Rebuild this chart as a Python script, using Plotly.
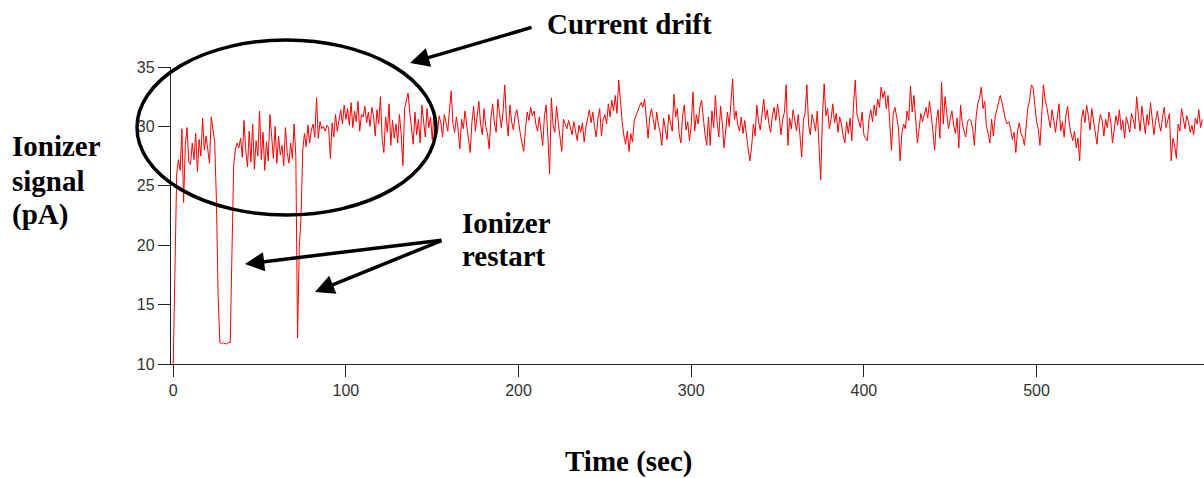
import plotly.graph_objects as go

# ---------------- data (1 sample per second) ----------------
signal_pA = [
    10.0, 18.5, 26.0, 27.2, 26.3, 29.8, 23.6, 28.5, 29.9, 27.0,
    26.8, 28.6, 27.2, 29.4, 26.2, 28.9, 27.5, 30.7, 28.0, 29.2,
    27.9, 26.9, 30.8, 29.6, 28.7,
    23.8, 15.7, 11.8, 11.7, 11.8, 11.7, 11.7, 11.8, 11.8, 18.5, 26.7, 28.1,
    28.6, 28.2, 29.0, 27.4, 30.5, 28.0, 26.6, 29.6, 27.0, 30.2, 26.4, 28.8, 27.5, 31.3,
    27.2, 29.5, 26.3, 28.7, 27.1, 31.0, 28.8, 27.3, 30.0, 26.9,
    29.2, 27.6, 28.4, 26.7, 29.9, 27.8, 26.9, 28.6, 27.3, 30.2, 27.5,
    12.2, 19.8, 22.3, 28.0,
    29.4, 28.3, 30.1, 28.6, 29.7, 30.2, 29.1, 32.4, 29.0, 30.4,
    29.8, 30.0, 29.6, 30.1, 29.9, 27.3, 30.3, 29.1, 31.0, 29.6,
    30.5, 31.4, 30.2, 31.8,
    30.6, 31.5, 30.1, 32.0, 29.9, 31.3, 30.4, 32.1, 29.6, 31.0,
    30.8, 31.7, 30.3, 31.2, 30.0, 31.6, 30.9, 29.2, 31.4, 30.2,
    32.5, 28.9, 27.8, 30.8, 29.5, 31.9, 28.4, 30.5, 29.0, 30.2,
    28.6, 31.0, 29.4, 26.7, 31.5, 32.1, 32.8, 31.2, 29.7, 28.5,
    31.2, 29.3, 30.6, 28.6, 31.8, 30.4, 29.1, 31.5, 29.9, 30.8,
    28.9, 31.2, 30.0, 29.4, 30.9, 30.3, 29.1, 31.0, 30.4, 29.6,
    31.4, 33.0, 30.2, 29.5, 30.8, 29.7, 28.1, 30.6, 29.8, 31.3,
    30.1, 29.0, 27.8, 30.4, 31.7, 29.6, 30.9, 32.1, 30.2, 29.3,
    31.5, 30.0, 29.4, 28.1, 30.7, 31.9, 30.3, 29.5, 32.3, 30.8,
    29.9, 31.2, 33.5, 30.6, 29.2, 31.8, 30.4, 29.7, 30.9, 31.4,
    30.2, 29.4, 28.6, 27.9, 29.8, 31.2, 30.5, 31.6, 30.9, 31.3,
    30.2, 29.6, 30.8, 29.3, 28.4, 30.9, 31.8, 29.1, 26.0, 32.4,
    30.1, 29.5, 31.7, 30.3, 28.9, 27.9, 30.6, 30.2, 29.8, 30.5,
    30.0, 29.3, 30.4, 29.7, 28.8, 30.1, 29.5, 30.3, 28.7, 29.9,
    30.8, 31.4, 30.3, 31.2, 30.0, 29.1, 30.7, 31.5, 29.2, 30.6,
    31.0, 30.2, 31.9, 30.8, 32.2, 31.3, 32.6, 31.1, 33.9, 32.0,
    30.4, 29.2, 28.5, 29.6, 27.9, 29.4, 28.7, 30.5, 30.9, 31.4,
    31.7, 32.0, 31.6, 32.3, 30.2, 29.0, 30.8, 31.5, 30.6, 29.7,
    31.2, 30.1, 29.5, 28.4, 30.7, 29.9, 28.9, 31.0, 30.3, 29.6,
    32.7, 30.8, 31.5, 29.4, 28.6, 30.9, 31.8, 29.7, 30.4, 28.8,
    30.1, 32.9, 29.6, 31.0, 30.2, 31.6, 32.2, 30.7, 29.3, 28.4,
    30.8, 28.4, 31.3, 29.9, 32.6, 30.4, 29.1, 31.7, 30.3, 28.2,
    29.5, 31.2, 30.0, 32.0, 34.0, 30.6, 31.3, 30.1, 29.6, 30.8,
    29.4, 30.5, 29.0, 28.1, 27.1, 28.3, 30.2, 29.2, 31.8, 30.4,
    29.7, 31.0, 32.3, 30.6, 31.4, 30.2, 29.5, 30.9, 31.6, 30.5,
    31.9, 30.8, 29.3, 30.6, 31.2, 33.5, 28.4, 30.7, 29.8, 31.4,
    30.3, 29.6, 31.0, 29.1, 27.4, 30.5, 31.2, 33.5, 30.1, 29.3,
    31.0, 30.4, 29.6, 31.3, 28.7, 25.5, 30.8, 33.6, 30.9, 31.5,
    29.8, 30.6, 31.9, 30.3, 31.1, 29.5, 30.8, 30.2, 29.2, 28.6,
    30.4, 29.4, 30.7, 28.8, 31.8, 33.9, 31.0, 30.5, 29.9, 31.2,
    29.3, 29.0, 28.8, 30.6, 31.4, 30.4, 31.8, 30.9, 32.3, 31.6,
    33.3, 32.4, 33.0, 31.5, 32.6, 30.3, 28.0, 31.1, 31.6, 30.8,
    29.9, 27.1, 29.4, 30.2, 29.8, 31.3, 30.5, 33.4, 31.2, 32.6,
    30.1, 28.6, 29.8, 31.1, 30.4, 30.9, 31.6, 30.7, 32.1, 31.0,
    29.2, 28.0, 30.5, 31.4, 29.0, 33.7, 30.2, 32.5, 31.1, 29.8,
    30.6, 31.3, 30.1, 29.4, 30.7, 28.2, 31.8, 30.3, 29.6, 29.1,
    30.4, 30.6, 30.5, 29.8, 28.4, 30.8, 31.9, 32.4, 33.3, 31.5,
    32.1, 30.0, 29.4, 28.6, 30.6, 29.2, 30.8, 31.4, 32.1, 32.6,
    32.0, 31.2, 30.6, 30.2, 30.4, 29.8, 28.9, 29.5, 27.8, 29.6,
    30.3, 29.4, 29.1, 28.4, 30.2, 31.6, 32.2, 33.5, 33.3, 31.5,
    30.4, 29.8, 28.4, 30.9, 33.5, 32.2, 31.6, 30.7, 29.9, 31.4,
    30.6, 29.5, 30.8, 31.9, 29.6, 30.4, 29.1, 30.9, 31.7, 30.2,
    29.4, 28.8, 29.6, 28.2, 29.0, 27.1, 30.6, 31.4, 30.3, 31.8,
    30.9, 29.7, 31.5, 30.4, 29.6, 28.5, 30.1, 31.0, 30.5, 29.2,
    30.6, 29.9, 31.2, 30.4, 28.6, 29.8, 30.9, 30.1, 31.4, 29.7,
    30.5, 29.0, 30.8, 30.2, 29.5, 31.1, 30.6, 29.8, 32.5, 30.9,
    29.6, 31.7, 30.3, 29.4, 31.0, 30.1, 32.0, 30.7, 29.3, 30.5,
    31.3, 30.2, 29.6, 30.8, 31.6, 29.9, 30.5, 31.1, 27.1, 29.0,
    28.4, 27.3, 30.2, 29.6, 31.5, 30.6, 29.8, 30.9, 30.4, 29.5,
    30.1, 29.3, 30.7, 30.2, 31.4, 29.9, 30.6,
]
time_s = list(range(len(signal_pA)))

x_ticks = [0, 100, 200, 300, 400, 500]
y_ticks = [10, 15, 20, 25, 30, 35]
x_range = [-1.3, 597]
y_range = [10, 35]

# ---------------- layout helpers (pixel -> paper) ----------------
W, H = 1204, 478
ML, MR, MT, MB = 171, 0, 67, 114
PW, PH = W - ML - MR, H - MT - MB


def px(x):
    return (x - ML) / PW


def py(y):
    return (H - MB - y) / PH


SERIF = "Liberation Serif, Times New Roman, serif"
SANS = "Liberation Sans, Arial, sans-serif"
BIG = 29

fig = go.Figure()
fig.add_trace(go.Scatter(
    x=time_s, y=signal_pA, mode="lines",
    line=dict(color="#ff0000", width=1),
    hoverinfo="skip", showlegend=False,
))

axis_common = dict(
    showgrid=False, zeroline=False, showline=True, linecolor="#222222",
    linewidth=1.3, ticks="outside", ticklen=12, tickwidth=1.3,
    tickcolor="#222222", tickfont=dict(family=SANS, size=16, color="#333333"),
)
fig.update_xaxes(range=x_range, tickvals=x_ticks,
                 ticktext=[str(v) for v in x_ticks], **axis_common)
fig.update_yaxes(range=y_range, tickvals=y_ticks,
                 ticktext=[str(v) for v in y_ticks], **axis_common)

# ellipse around the drift region
fig.add_shape(type="circle", xref="paper", yref="paper",
              x0=px(137), x1=px(436), y0=py(215), y1=py(40),
              line=dict(color="black", width=3.5))

annotations = []


def label(text, x, y, xanchor="left"):
    annotations.append(dict(
        text=f"<b>{text}</b>", xref="paper", yref="paper", x=px(x), y=py(y),
        xanchor=xanchor, yanchor="middle", showarrow=False,
        font=dict(family=SERIF, size=BIG, color="black"),
    ))


def arrow(tail, tip):
    annotations.append(dict(
        text="", xref="paper", yref="paper", x=px(tip[0]), y=py(tip[1]),
        ax=tail[0] - tip[0], ay=tail[1] - tip[1], axref="pixel", ayref="pixel",
        showarrow=True, arrowhead=2, arrowsize=1.1, arrowwidth=3.5,
        arrowcolor="black",
    ))


label("Current drift", 545, 24)
label("Ionizer", 10, 146)
label("signal", 10, 181)
label("(pA)", 10, 214)
label("Ionizer", 460, 223)
label("restart", 460, 256)
label("Time (sec)", 629, 461, xanchor="center")
arrow((533, 27), (410, 63))
arrow((443, 240), (245, 264))
arrow((443, 240), (315, 292))

fig.update_layout(
    width=W, height=H, margin=dict(l=ML, r=MR, t=MT, b=MB),
    paper_bgcolor="white", plot_bgcolor="white",
    annotations=annotations, showlegend=False,
)

fig.write_html(
    "out.html",
    config={"displayModeBar": False},
    post_script="document.body.style.margin='0';document.body.style.overflow='hidden';",
)
